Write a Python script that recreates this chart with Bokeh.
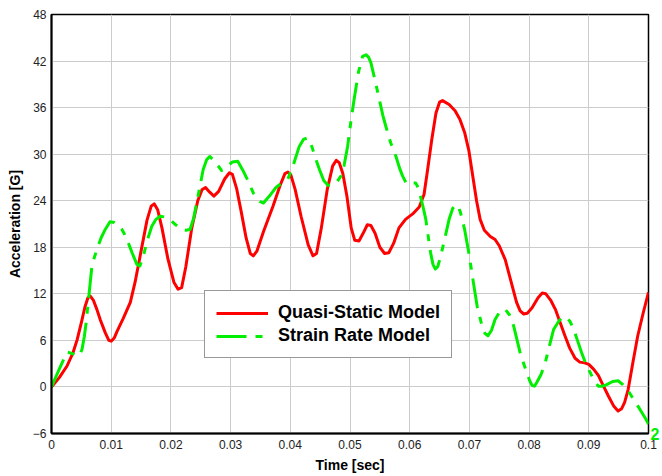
from bokeh.plotting import figure
from bokeh.models import Range1d, FixedTicker, Legend, LegendItem, LinearAxis
from bokeh.embed import file_html
from bokeh.resources import INLINE

# Quasi-static model response (time in sec, acceleration in G)
qs_time = [0, 0.0013, 0.0026, 0.0036, 0.0043, 0.0050, 0.0056, 0.0061, 0.0065, 0.0070,
           0.0076, 0.0082, 0.0090, 0.0096, 0.0100, 0.0105, 0.0110, 0.0120, 0.0132, 0.0140,
           0.0150, 0.0160, 0.0167, 0.0172, 0.0178, 0.0185, 0.0195, 0.0205, 0.0212, 0.0218,
           0.0225, 0.0235, 0.0245, 0.0252, 0.0258, 0.0265, 0.0272, 0.0280, 0.0290, 0.0298,
           0.0303, 0.0310, 0.0318, 0.0326, 0.0333, 0.0338, 0.0344, 0.0355, 0.0371, 0.0383,
           0.0391, 0.0396, 0.0401, 0.0408, 0.0418, 0.0430, 0.0438, 0.0444, 0.0452, 0.0462,
           0.0471, 0.0477, 0.0482, 0.0488, 0.0495, 0.0502, 0.0508, 0.0515, 0.0522, 0.0529,
           0.0535, 0.0542, 0.0550, 0.0558, 0.0565, 0.0573, 0.0582, 0.0593, 0.0605, 0.0616,
           0.0624, 0.0630, 0.0637, 0.0644, 0.0650, 0.0655, 0.0666, 0.0676, 0.0684, 0.0692,
           0.0699, 0.0706, 0.0712, 0.0718, 0.0725, 0.0735, 0.0743, 0.0750, 0.0760, 0.0770,
           0.0779, 0.0785, 0.0791, 0.0797, 0.0805, 0.0815, 0.0822, 0.0828, 0.0836, 0.0844,
           0.0852, 0.0860, 0.0868, 0.0877, 0.0885, 0.0893, 0.0900, 0.0908, 0.0916, 0.0924,
           0.0933, 0.0942, 0.0949, 0.0955, 0.0960, 0.0966, 0.0974, 0.0982, 0.0991, 0.1000]
qs_accel = [0, 1.2, 2.7, 4.4, 6.1, 8.3, 10.3, 11.5, 11.7, 11.2,
            10.0, 8.6, 7.0, 6.0, 5.9, 6.3, 7.2, 8.8, 10.9, 13.5,
            17.5, 21.5, 23.3, 23.6, 22.8, 20.5, 16.5, 13.5, 12.6, 12.8,
            15.5, 20.5, 24.0, 25.4, 25.7, 25.1, 24.6, 25.2, 26.8, 27.6,
            27.4, 25.6, 22.5, 19.2, 17.2, 16.9, 17.5, 20.0, 23.3, 26.0,
            27.5, 27.7, 27.3, 25.5, 22.0, 18.3, 16.9, 17.2, 20.5, 25.5,
            28.5, 29.2, 28.9, 27.5, 24.5, 20.5, 18.9, 18.8, 19.8, 20.9,
            20.8, 19.8, 18.0, 17.2, 17.3, 18.5, 20.5, 21.6, 22.3, 23.2,
            24.8, 28.0, 31.9, 35.3, 36.7, 36.9, 36.4, 35.6, 34.5, 32.8,
            30.5, 27.0, 24.0, 21.6, 20.2, 19.4, 19.0, 18.2, 16.4, 13.5,
            10.9, 9.8, 9.4, 9.5, 10.2, 11.5, 12.1, 12.0, 11.2, 10.0,
            8.3, 6.6, 5.0, 3.7, 3.2, 3.1, 2.9, 2.3, 1.5, 0.2,
            -1.2, -2.5, -3.1, -2.8, -2.0, -0.3, 3.2, 6.6, 9.5, 12.2]

# Strain rate model response
sr_time = [0, 0.0013, 0.0026, 0.0035, 0.0046, 0.0051, 0.0055, 0.0058, 0.0062, 0.0068,
           0.0076, 0.0083, 0.0090, 0.0098, 0.0105, 0.0112, 0.0118, 0.0125, 0.0135, 0.0143,
           0.0148, 0.0154, 0.0160, 0.0168, 0.0175, 0.0182, 0.0190, 0.0198, 0.0208, 0.0218,
           0.0225, 0.0232, 0.0238, 0.0243, 0.0249, 0.0254, 0.0260, 0.0265, 0.0271, 0.0278,
           0.0285, 0.0293, 0.0303, 0.0312, 0.0320, 0.0329, 0.0338, 0.0349, 0.0355, 0.0365,
           0.0376, 0.0386, 0.0396, 0.0405, 0.0415, 0.0422, 0.0429, 0.0436, 0.0443, 0.0449,
           0.0456, 0.0463, 0.0470, 0.0477, 0.0485, 0.0490, 0.0496, 0.0502, 0.0507, 0.0514,
           0.0521, 0.0527, 0.0531, 0.0535, 0.0542, 0.0549, 0.0555, 0.0560, 0.0568, 0.0577,
           0.0583, 0.0588, 0.0594, 0.0599, 0.0605, 0.0610, 0.0614, 0.0618, 0.0623, 0.0627,
           0.0631, 0.0635, 0.0639, 0.0643, 0.0647, 0.0652, 0.0659, 0.0666, 0.0672, 0.0677,
           0.0681, 0.0685, 0.0692, 0.0699, 0.0706, 0.0713, 0.0721, 0.0726, 0.0731, 0.0737,
           0.0743, 0.0751, 0.0760, 0.0767, 0.0774, 0.0780, 0.0785, 0.0791, 0.0796, 0.0801,
           0.0805, 0.0809, 0.0813, 0.0820, 0.0827, 0.0834, 0.0841, 0.0850, 0.0856, 0.0862,
           0.0868, 0.0874, 0.0881, 0.0888, 0.0895, 0.0902, 0.0909, 0.0916, 0.0923, 0.0930,
           0.0940, 0.0949, 0.0957, 0.0966, 0.0975, 0.0985, 0.0996, 0.1000]
sr_accel = [0, 2.3, 4.5, 4.3, 4.0, 4.8, 6.5, 8.3, 11.3, 15.8,
            17.7, 19.2, 20.3, 21.3, 21.2, 20.8, 20.3, 19.3, 17.3, 15.8,
            15.6, 16.9, 18.8, 20.7, 21.6, 22.0, 21.9, 21.6, 20.9, 20.3,
            20.2, 20.3, 21.7, 23.7, 26.0, 28.0, 29.3, 29.7, 29.3, 28.6,
            27.9, 28.3, 29.0, 29.1, 28.0, 26.6, 25.0, 23.9, 23.7, 24.6,
            25.7, 26.3, 26.8, 28.6, 31.0, 31.9, 32.1, 31.0, 29.3, 28.0,
            26.6, 26.0, 26.0, 26.3, 27.2, 28.5, 31.0, 34.5, 37.1, 40.5,
            42.6, 42.8, 42.5, 41.8, 39.5, 37.1, 35.0, 33.6, 31.5, 29.7,
            28.2, 27.2, 26.3, 26.1, 26.3, 26.3, 25.7, 24.6, 23.0, 21.6,
            19.4, 17.3, 15.8, 15.2, 15.5, 16.9, 19.2, 21.6, 23.0, 23.5,
            23.3, 22.5, 20.3, 17.3, 13.8, 10.4, 7.9, 6.9, 6.6, 7.3,
            8.7, 9.7, 10.0, 9.3, 7.9, 6.0, 4.4, 3.0, 1.9, 0.8,
            0.2, 0.1, 0.6, 1.6, 3.1, 5.3, 7.4, 8.5, 9.0, 9.0,
            8.5, 7.6, 6.0, 4.4, 3.0, 1.9, 0.8, 0.1, 0.1, 0.3,
            0.7, 0.8, 0.3, -0.5, -1.6, -2.8, -4.2, -4.8]

x_ticks = [0, 0.01, 0.02, 0.03, 0.04, 0.05, 0.06, 0.07, 0.08, 0.09, 0.1]
x_tick_labels = ["0", "0.01", "0.02", "0.03", "0.04", "0.05", "0.06", "0.07", "0.08", "0.09", "0.1"]
y_ticks = [-6, 0, 6, 12, 18, 24, 30, 36, 42, 48]

# tag printed at the right end of the strain rate curve
end_tag_value = -6
end_tag_text = "2"

FONT = "Liberation Sans"

p = figure(width=662, height=476, output_backend="svg", toolbar_location=None,
           x_range=Range1d(0, 0.1), y_range=Range1d(-6, 48),
           min_border_left=51, min_border_right=0, min_border_top=14, min_border_bottom=43)

p.background_fill_color = "white"
p.border_fill_color = "white"
p.outline_line_color = "black"
p.outline_line_width = 1.5

for ax in (p.xaxis[0], p.yaxis[0]):
    ax.axis_line_color = "black"
    ax.axis_line_width = 2
    ax.major_tick_out = 0
    ax.major_tick_in = 0
    ax.minor_tick_out = 0
    ax.minor_tick_in = 0
    ax.major_label_text_font = FONT
    ax.major_label_text_font_size = "12px"
    ax.major_label_text_color = "#222222"
    ax.axis_label_text_font = FONT
    ax.axis_label_text_font_size = "14px"
    ax.axis_label_text_font_style = "bold"
    ax.axis_label_text_color = "black"

p.xaxis.ticker = FixedTicker(ticks=x_ticks)
p.xaxis.major_label_overrides = {t: s for t, s in zip(x_ticks, x_tick_labels)}
p.xaxis.major_label_standoff = 6
p.xaxis.axis_label = "Time [sec]"
p.xaxis.axis_label_standoff = 5

p.yaxis.ticker = FixedTicker(ticks=y_ticks)
p.yaxis.major_label_standoff = 5
p.yaxis.axis_label = "Acceleration [G]"
p.yaxis.axis_label_standoff = 7

# right-side axis used only to print the curve's end tag outside the frame
tag_axis = LinearAxis(ticker=FixedTicker(ticks=[end_tag_value]),
                      major_label_overrides={end_tag_value: end_tag_text})
tag_axis.axis_line_color = None
tag_axis.major_tick_out = 0
tag_axis.major_tick_in = 0
tag_axis.minor_tick_out = 0
tag_axis.minor_tick_in = 0
tag_axis.major_label_standoff = 2
tag_axis.major_label_text_font = FONT
tag_axis.major_label_text_font_size = "16px"
tag_axis.major_label_text_font_style = "bold"
tag_axis.major_label_text_color = "#00ee00"
p.add_layout(tag_axis, "right")

p.grid.grid_line_color = "#cccccc"
p.grid.grid_line_width = 1

qs = p.line(qs_time, qs_accel, line_color="#ff0000", line_width=3, line_join="round")
sr = p.line(sr_time, sr_accel, line_color="#00ee00", line_width=3, line_join="round",
            line_dash="30 9 7 9")

legend = Legend(items=[LegendItem(label="Quasi-Static Model", renderers=[qs]),
                       LegendItem(label="Strain Rate Model", renderers=[sr])],
                location=(153, 75))
legend.label_text_font = FONT
legend.label_text_font_size = "18px"
legend.label_text_font_style = "bold"
legend.label_text_color = "black"
legend.glyph_width = 52
legend.glyph_height = 20
legend.label_height = 20
legend.label_standoff = 10
legend.spacing = 2
legend.padding = 11
legend.margin = 0
legend.border_line_color = "#333333"
legend.border_line_width = 1
legend.background_fill_color = "white"
legend.background_fill_alpha = 1
p.add_layout(legend, "center")

open("out.html", "w").write(file_html(p, INLINE))
